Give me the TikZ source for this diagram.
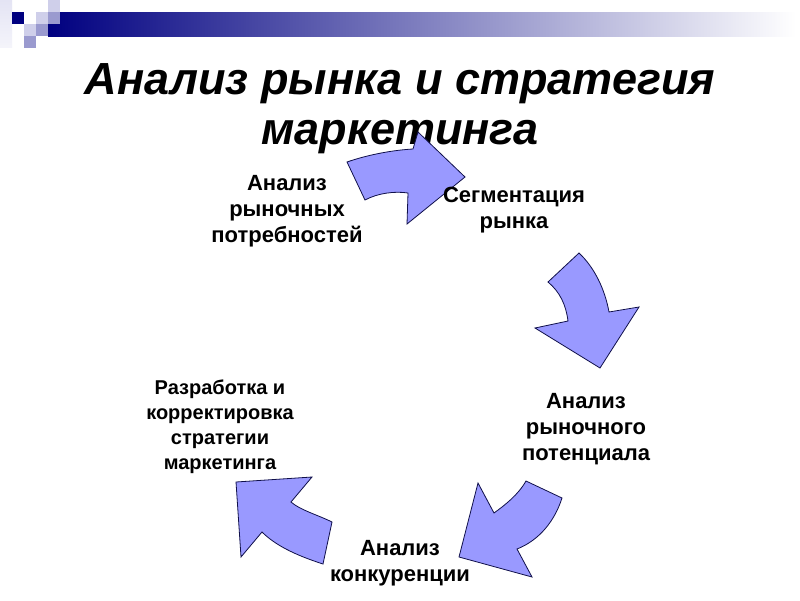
\documentclass[tikz,border=0pt]{standalone}
\usepackage{fontspec}
\setmainfont{Liberation Sans}
\begin{document}
\begin{tikzpicture}[x=1pt,y=-1pt,
  arr/.style={fill=arrfill, draw=arrline, line width=0.8pt, line join=miter},
  lbl/.style={align=center, inner sep=0pt, font=\bfseries\fontsize{22}{26}\selectfont},
  lblsm/.style={align=center, inner sep=0pt, font=\bfseries\fontsize{20}{25}\selectfont},
  ttl/.style={align=center, inner sep=0pt, font=\bfseries\itshape\fontsize{45}{50}\selectfont}]
\definecolor{arrfill}{HTML}{9999FF}
\definecolor{arrline}{HTML}{10104A}
\definecolor{navyb}{HTML}{000080}
\definecolor{lightl}{HTML}{CFCFEA}
\definecolor{midl}{HTML}{9A9ACF}
\definecolor{palel}{HTML}{E4E4F4}
\useasboundingbox (0,0) rectangle (800,600);
\fill[white] (0,0) rectangle (800,600);
% top decoration
\shade[left color=navyb, right color=white] (48,12) rectangle (796,36);
\shade[top color=palel, bottom color=palel!40] (0,0) rectangle (12,47);
\fill[navyb] (12,12) rectangle (24,24);
\fill[lightl] (48,0) rectangle (60,12);
\fill[lightl] (36,12) rectangle (48,24);
\fill[midl] (48,12) rectangle (60,24);
\fill[lightl] (24,24) rectangle (36,36);
\fill[midl] (36,24) rectangle (48,36);
\fill[midl] (24,36) rectangle (36,48);
% title
\node[ttl] (title) at (400,109) {Анализ рынка и стратегия\\маркетинга};
% arrows
\draw[arr] (347,162) .. controls (370,154) and (395,150) .. (413,149)
  -- (418,132) -- (465,177) -- (407,224) -- (408,193)
  .. controls (395,191) and (378,193) .. (365,200) -- cycle;
\draw[arr] (579,253) -- (548,282) .. controls (560,292) and (566,305) .. (568,321)
  -- (535,328) -- (600,368) -- (639,307) -- (609,312)
  .. controls (605,290) and (595,268) .. cycle;
\draw[arr] (526,481) -- (562,498) .. controls (555,520) and (540,540) .. (517,549)
  -- (532,577) -- (459,557) -- (478,483) -- (494,513)
  .. controls (505,505) and (518,495) .. cycle;
\draw[arr] (236,482) -- (312,477) -- (291,502) .. controls (300,510) and (318,515) .. (332,522)
  -- (323,564) .. controls (295,555) and (275,545) .. (262,532)
  -- (241,557) -- cycle;
% labels
\node[lbl] (needs) at (287,211) {Анализ\\рыночных\\потребностей};
\node[lbl] (segm) at (514,210) {Сегментация\\рынка};
\node[lbl] (pot) at (586,429) {Анализ\\рыночного\\потенциала};
\node[lbl] (comp) at (400,563) {Анализ\\конкуренции};
\node[lblsm] (strat) at (220,427) {Разработка и\\корректировка\\стратегии\\маркетинга};
\end{tikzpicture}
\end{document}
